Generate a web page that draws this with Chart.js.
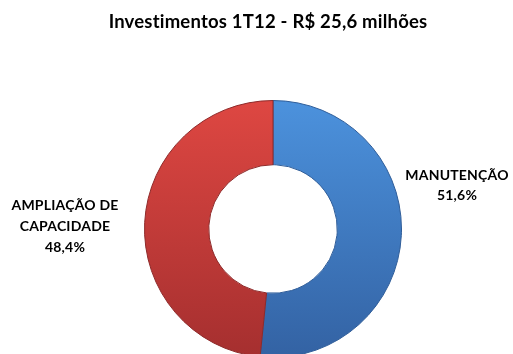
<!DOCTYPE html>
<html>
<head>
<meta charset="utf-8">
<script src="https://cdn.jsdelivr.net/npm/chart.js@4/dist/chart.umd.min.js"></script>
<style>
  html, body { margin: 0; padding: 0; background: #fff; overflow: hidden; }
  #wrap { position: relative; width: 513px; height: 400px; }
</style>
</head>
<body>
<div id="wrap"><canvas id="c"></canvas></div>
<script>
const chartTitle = 'Investimentos 1T12 - R$ 25,6 milhões';
const categories = ['MANUTENÇÃO', 'AMPLIAÇÃO DE CAPACIDADE'];
const labelLines = [['MANUTENÇÃO'], ['AMPLIAÇÃO DE', 'CAPACIDADE']];
const shares = [51.6, 48.4];
const percentLabels = ['51,6%', '48,4%'];

const topColors = ['#4c92dd', '#de4742'];
const bottomColors = ['#3362a3', '#a52f2f'];
const edgeColors = ['#2f5d99', '#8e2a2a'];

function sliceFill(ctx) {
  const chart = ctx.chart;
  const area = chart.chartArea;
  if (!area) return topColors[ctx.dataIndex];
  const g = chart.ctx.createLinearGradient(0, area.top, 0, area.bottom);
  g.addColorStop(0, topColors[ctx.dataIndex]);
  g.addColorStop(1, bottomColors[ctx.dataIndex]);
  return g;
}

const textPlugin = {
  id: 'texts',
  afterDraw(chart) {
    const c = chart.ctx;
    const arc = chart.getDatasetMeta(0).data[0];
    const cx = arc.x, cy = arc.y;
    c.save();
    c.fillStyle = '#000';
    c.textAlign = 'center';
    c.textBaseline = 'middle';
    c.letterSpacing = '0.2px';
    c.font = 'bold 18.5px Lato';
    c.fillText(chartTitle, 268, 22);

    c.font = 'bold 14px Lato';
    const r = [...labelLines[0], percentLabels[0]];
    r.forEach((t, i) => c.fillText(t, cx + 184, cy - 54 + i * 20.5));
    const l = [...labelLines[1], percentLabels[1]];
    l.forEach((t, i) => c.fillText(t, cx - 208, cy - 24 + i * 21));
    c.restore();
  }
};

new Chart(document.getElementById('c'), {
  type: 'doughnut',
  data: {
    labels: categories,
    datasets: [{
      data: shares,
      backgroundColor: sliceFill,
      borderColor: edgeColors,
      borderWidth: 1
    }]
  },
  options: {
    responsive: true,
    maintainAspectRatio: false,
    animation: false,
    cutout: '50%',
    layout: { padding: { top: 100, bottom: 42, left: 144, right: 111 } },
    plugins: {
      legend: { display: false },
      tooltip: { enabled: false },
      title: { display: false }
    }
  },
  plugins: [textPlugin]
});
</script>
</body>
</html>
